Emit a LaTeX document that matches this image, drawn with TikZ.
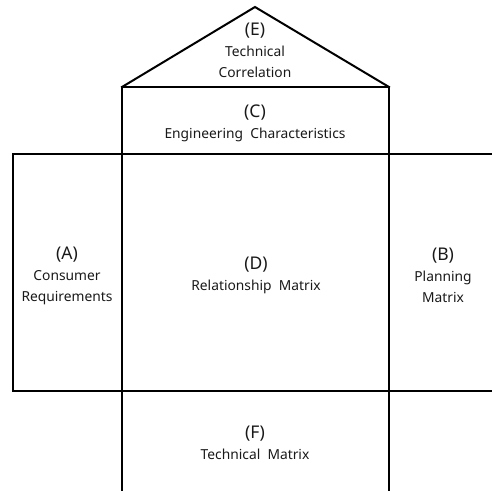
\documentclass[tikz,border=0pt]{standalone}
\usepackage{fontspec}
\setmainfont{Noto Sans}
\begin{document}
\begin{tikzpicture}[x=1pt,y=-1pt,
  frame/.style={line width=2pt,line cap=rect,line join=miter},
  lbl/.style={align=center,inner sep=0pt,font=\fontsize{13.8}{21}\selectfont,text=black!90}]
\newcommand\hdr[1]{{\fontsize{17.5}{21}\selectfont #1}}
\useasboundingbox (0,0) rectangle (492,490);
% coordinates
\coordinate (apex) at (255,7);
\coordinate (rl) at (122,87);
\coordinate (rr) at (389,87);
\coordinate (ml) at (13,154);
\coordinate (mr) at (492,154);
\coordinate (bl) at (13,391);
\coordinate (br) at (492,391);
\coordinate (fl) at (122,490);
\coordinate (fr) at (389,490);
% frame
\draw[frame] (rl) -- (apex) -- (rr);
\draw[frame] (rl) -- (rr);
\draw[frame] (rl) -- (fl);
\draw[frame] (rr) -- (fr);
\draw[frame] (mr) -- (ml) -- (bl) -- (br);
% texts
\node[lbl] (E) at (255,50) {\hdr{(E)}\\Technical\\Correlation};
\node[lbl] (C) at (255,123) {\hdr{(C)}\\Engineering\ \ Characteristics};
\node[lbl] (A) at (67,276) {\hdr{(A)}\\Consumer\\Requirements};
\node[lbl] (D) at (256,275) {\hdr{(D)}\\Relationship\ \ Matrix};
\node[lbl] (B) at (443,275) {\hdr{(B)}\\Planning\\Matrix};
\node[lbl] (F) at (255,443) {\hdr{(F)}\\Technical\ \ Matrix};
\end{tikzpicture}
\end{document}
